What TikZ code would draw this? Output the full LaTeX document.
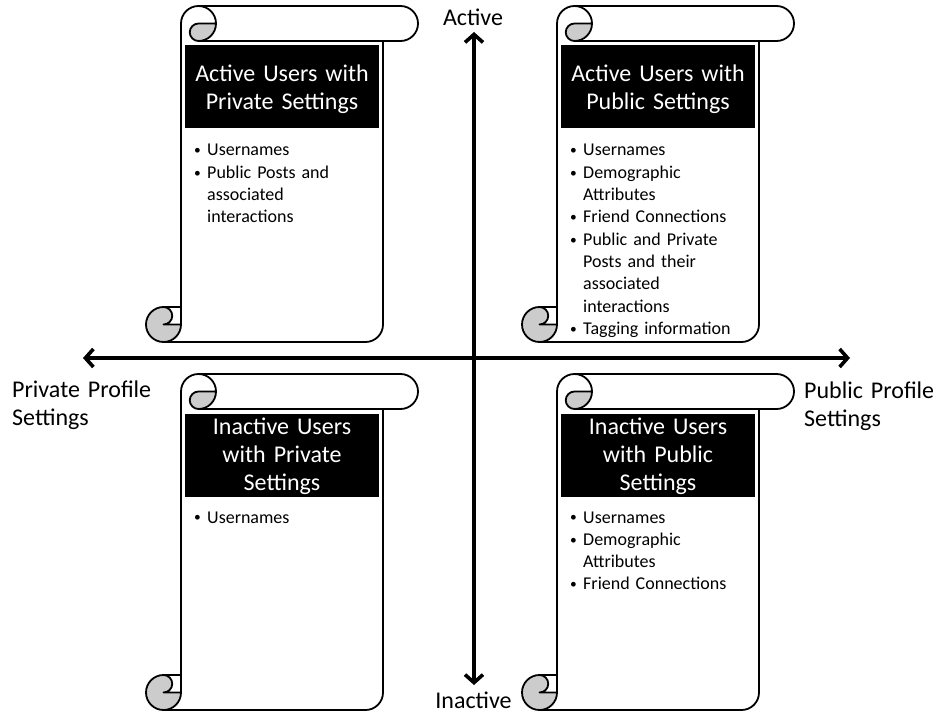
\documentclass[tikz,border=0pt]{standalone}
\usepackage{fontspec}
\setmainfont{Carlito}
\usetikzlibrary{arrows.meta}
\definecolor{curlgray}{RGB}{204,204,204}
\newcommand{\itm}{\makebox[13pt][l]{\raisebox{0.12ex}{\scalebox{0.75}{\textbullet}}}}
\newcommand{\ind}{\hspace*{13pt}}

\begin{document}
\begin{tikzpicture}[x=1pt,y=-1pt,
  outline/.style={line width=1.8pt,line join=round},
  axis/.style={line width=3.6pt,{Straight Barb[length=8pt,width=18pt]}-{Straight Barb[length=8pt,width=18pt]}},
  titlebox/.style={fill=black,minimum width=194pt,minimum height=83pt,inner sep=0pt},
  titletxt/.style={text=white,text width=194pt,align=center,inner sep=0pt,font=\fontsize{24}{28}\selectfont},
  listtxt/.style={text width=190pt,align=left,inner sep=0pt,font=\fontsize{18}{22.3}\selectfont},
  axislabel/.style={inner sep=0pt,font=\fontsize{24}{28}\selectfont}]
  \useasboundingbox (0,0) rectangle (933,714);

  % scrolls (left end, top)
  \foreach \sx/\sy in {146/6,522/6,146/374,522/374} {
    % grey curls
    \fill[curlgray] ({\sx+70},{\sy+17.5}) arc[start angle=0,delta angle=90,radius=17.5]
      arc[start angle=90,delta angle=180,radius=8.75] -- cycle;
    \fill[curlgray] ({\sx+17.5},{\sy+318.5}) circle[radius=17.5];
    \fill[white] ({\sx+17.5},{\sy+301}) -- ({\sx+35},{\sy+301}) -- ({\sx+35},{\sy+318.5})
      -- ({\sx+17.5},{\sy+318.5}) arc[start angle=90,delta angle=-180,radius=8.75] -- cycle;
    % sheet
    \draw[outline] ({\sx+35},{\sy+301}) -- ({\sx+35},{\sy+17.5})
      arc[start angle=180,delta angle=90,radius=17.5] -- ({\sx+254.5},\sy)
      arc[start angle=270,delta angle=180,radius=17.5] -- ({\sx+237},{\sy+35})
      -- ({\sx+237},{\sy+318.5}) arc[start angle=0,delta angle=90,radius=17.5]
      -- ({\sx+17.5},{\sy+336}) arc[start angle=90,delta angle=180,radius=17.5] -- cycle;
    % top roll
    \draw[outline] ({\sx+52.5},\sy) arc[start angle=270,delta angle=180,radius=17.5]
      arc[start angle=90,delta angle=180,radius=8.75] -- ({\sx+70},{\sy+17.5});
    \draw[outline] ({\sx+237},{\sy+35}) -- ({\sx+52.5},{\sy+35});
    % bottom roll
    \draw[outline] ({\sx+17.5},{\sy+301}) arc[start angle=270,delta angle=180,radius=8.75]
      -- ({\sx+35},{\sy+318.5});
    \draw[outline] ({\sx+17.5},{\sy+336}) arc[start angle=90,delta angle=-90,radius=17.5]
      -- ({\sx+35},{\sy+301});
  }

  % titles
  \node[titlebox] (tl-box) at (282,86.5) {};
  \node[titletxt,anchor=base] (tl-title) at (282,82) {Active Users with\\Private Settings};
  \node[titlebox] (tr-box) at (658,86.5) {};
  \node[titletxt,anchor=base] (tr-title) at (658,82) {Active Users with\\Public Settings};
  \node[titlebox] (bl-box) at (282,455) {};
  \node[titletxt,anchor=base] (bl-title) at (282,434) {Inactive Users\\with Private\\Settings};
  \node[titlebox] (br-box) at (658,455) {};
  \node[titletxt,anchor=base] (br-title) at (658,434) {Inactive Users\\with Public\\Settings};

  % lists
  \node[listtxt,anchor=base west] (tl-list) at (194,156)
    {\itm Usernames\\ \itm Public Posts and\\ \ind associated\\ \ind interactions};
  \node[listtxt,anchor=base west] (tr-list) at (570,156)
    {\itm Usernames\\ \itm Demographic\\ \ind Attributes\\ \itm Friend Connections\\
     \itm Public and Private\\ \ind Posts and their\\ \ind associated\\ \ind interactions\\
     \itm Tagging information};
  \node[listtxt,anchor=base west] (bl-list) at (194,523) {\itm Usernames};
  \node[listtxt,anchor=base west] (br-list) at (570,523)
    {\itm Usernames\\ \itm Demographic\\ \ind Attributes\\ \itm Friend Connections};

  % axes
  \coordinate (west) at (83,358);
  \coordinate (east) at (850,358);
  \coordinate (north) at (474,32);
  \coordinate (south) at (474,685);
  \draw[axis] (west) -- (east);
  \draw[axis] (north) -- (south);

  \node[axislabel,anchor=base] (active) at (473,26) {Active};
  \node[axislabel,anchor=base] (inactive) at (473.5,708) {Inactive};
  \node[axislabel,text width=150pt,align=left,anchor=base west] (private) at (12,397) {Private Profile\\Settings};
  \node[axislabel,text width=130pt,align=left,anchor=base west] (public) at (804,398) {Public Profile\\Settings};
\end{tikzpicture}
\end{document}
